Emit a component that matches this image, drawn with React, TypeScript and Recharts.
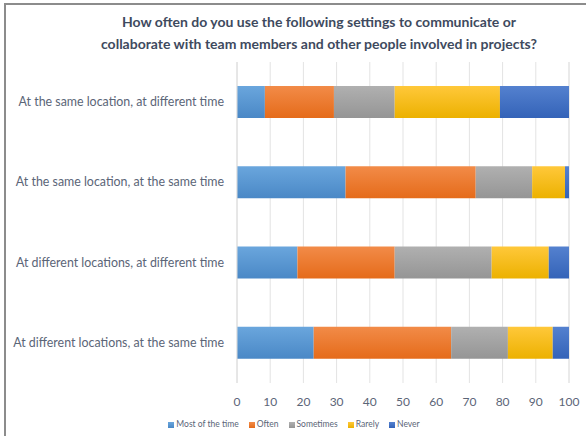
import { BarChart, Bar, XAxis, YAxis, CartesianGrid, Legend } from 'recharts';

const categories = [
  'At the same location, at different time',
  'At the same location, at the same time',
  'At different locations, at different time',
  'At different locations, at the same time',
];

const mostOfTheTime = [8.4, 32.7, 18.2, 23.1];
const often = [20.8, 39.2, 29.3, 41.4];
const sometimes = [18.3, 17.0, 29.2, 17.1];
const rarely = [31.7, 9.9, 17.2, 13.5];
const never = [20.8, 1.2, 6.1, 4.9];

const xTicks = [0, 10, 20, 30, 40, 50, 60, 70, 80, 90, 100];

const series = [
  { key: 'Most of the time', values: mostOfTheTime, top: '#6aa6dd', bottom: '#4a88c6' },
  { key: 'Often', values: often, top: '#f28b48', bottom: '#e56b1a' },
  { key: 'Sometimes', values: sometimes, top: '#b0b0b0', bottom: '#959595' },
  { key: 'Rarely', values: rarely, top: '#ffc83a', bottom: '#ecb100' },
  { key: 'Never', values: never, top: '#5481cf', bottom: '#3463b8' },
];
const order = series.map((s) => s.key);

const data = categories.map((name, i) => {
  const row: Record<string, string | number> = { name };
  series.forEach((s) => {
    row[s.key] = s.values[i];
  });
  return row;
});

const font = 'Lato, "Open Sans", sans-serif';
const labelColor = '#5b6577';

function YTick(props: any) {
  const { x, y, payload } = props;
  return (
    <text x={x} y={y} dy={4} textAnchor="end" fontSize={12.4} fill={labelColor} fontFamily={font}>
      {payload.value}
    </text>
  );
}

export default function App() {
  return (
    <div
      style={{
        position: 'absolute',
        top: 0,
        left: 0,
        width: 586,
        height: 436,
        background: '#fff',
        fontFamily: font,
      }}
    >
      <div
        style={{
          position: 'absolute',
          left: 4,
          top: 3,
          right: 0,
          bottom: 0,
          borderLeft: '2px solid #8c8c8c',
          borderTop: '2px solid #8c8c8c',
        }}
      />
      <div
        style={{
          position: 'absolute',
          top: 11,
          left: 20,
          width: 598,
          textAlign: 'center',
          fontWeight: 700,
          fontSize: 14,
          lineHeight: '22px',
          color: '#3e4a5e',
        }}
      >
        How often do you use the following settings to communicate or
        <br />
        collaborate with team members and other people involved in projects?
      </div>
      <div style={{ position: 'absolute', top: 0, left: 0 }}>
        <BarChart
          width={586}
          height={436}
          data={data}
          layout="vertical"
          barSize={32}
          margin={{ top: 62, right: 17, bottom: 13, left: 0 }}
        >
          <defs>
            {series.map((s, i) => (
              <linearGradient key={s.key} id={`grad${i}`} x1="0" y1="0" x2="0" y2="1">
                <stop offset="0%" stopColor={s.top} />
                <stop offset="100%" stopColor={s.bottom} />
              </linearGradient>
            ))}
          </defs>
          <CartesianGrid horizontal={false} stroke="#e3e3e3" />
          <XAxis
            type="number"
            domain={[0, 100]}
            ticks={xTicks}
            axisLine={false}
            tickLine={false}
            tickSize={6}
            tickMargin={8}
            height={30}
            tick={{ fontSize: 12, fill: labelColor, fontFamily: font }}
          />
          <YAxis
            type="category"
            dataKey="name"
            width={237}
            axisLine={{ stroke: '#dcdcdc' }}
            tickLine={false}
            tickSize={5}
            tickMargin={8}
            tick={<YTick />}
          />
          <Legend
            verticalAlign="bottom"
            iconType="square"
            iconSize={6}
            itemSorter={(item: any) => order.indexOf(item.value)}
            wrapperStyle={{ left: 12, width: 574, bottom: 7, fontSize: 8.5, fontFamily: font, color: labelColor }}
            formatter={(v) => (
              <span style={{ color: labelColor, marginLeft: -2, whiteSpace: 'nowrap' }}>{v}</span>
            )}
          />
          {series.map((s, i) => (
            <Bar
              key={s.key}
              dataKey={s.key}
              stackId="a"
              fill={`url(#grad${i})`}
              legendType="square"
              isAnimationActive={false}
            />
          ))}
        </BarChart>
      </div>
    </div>
  );
}
